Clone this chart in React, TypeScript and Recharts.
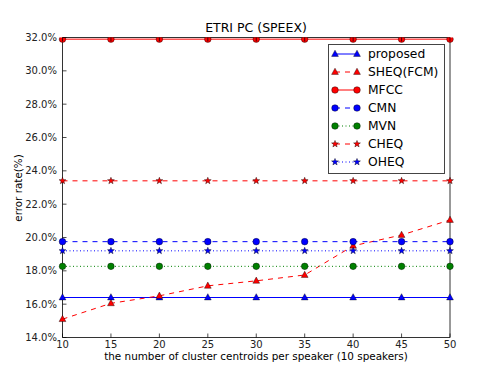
import React from "react";
import { LineChart, Line, XAxis, YAxis } from "recharts";

// cluster centroid counts per speaker
const centroids = [10, 15, 20, 25, 30, 35, 40, 45, 50];

// error rates (%)
const proposed = [16.4, 16.4, 16.4, 16.4, 16.4, 16.4, 16.4, 16.4, 16.4];
const sheqFcm = [15.1, 16.05, 16.5, 17.1, 17.4, 17.75, 19.5, 20.15, 21.05];
const mfcc = [31.9, 31.9, 31.9, 31.9, 31.9, 31.9, 31.9, 31.9, 31.9];
const cmn = [19.75, 19.75, 19.75, 19.75, 19.75, 19.75, 19.75, 19.75, 19.75];
const mvn = [18.27, 18.27, 18.27, 18.27, 18.27, 18.27, 18.27, 18.27, 18.27];
const cheq = [23.4, 23.4, 23.4, 23.4, 23.4, 23.4, 23.4, 23.4, 23.4];
const oheq = [19.2, 19.2, 19.2, 19.2, 19.2, 19.2, 19.2, 19.2, 19.2];

const xTicks = [10, 15, 20, 25, 30, 35, 40, 45, 50];
const yTicks = [14, 16, 18, 20, 22, 24, 26, 28, 30, 32];

const FONT = "DejaVu Sans, sans-serif";
const BLUE = "#0000ff";
const RED = "#ff0000";
const GREEN = "#008000";

const data = centroids.map((c, i) => ({
  c,
  proposed: proposed[i],
  sheq: sheqFcm[i],
  mfcc: mfcc[i],
  cmn: cmn[i],
  mvn: mvn[i],
  cheq: cheq[i],
  oheq: oheq[i],
}));

type Shape = "tri" | "circle" | "star";

function marker(shape: Shape, cx: number, cy: number, color: string, key?: any) {
  if (shape === "circle") {
    return <circle key={key} cx={cx} cy={cy} r={3.3} fill={color} stroke="#000" strokeWidth={0.4} />;
  }
  if (shape === "tri") {
    const pts = `${cx},${cy - 3.8} ${cx - 3.4},${cy + 2.4} ${cx + 3.4},${cy + 2.4}`;
    return <polygon key={key} points={pts} fill={color} stroke="#000" strokeWidth={0.4} />;
  }
  const p: string[] = [];
  for (let k = 0; k < 10; k++) {
    const r = k % 2 === 0 ? 3.6 : 1.5;
    const a = -Math.PI / 2 + (k * Math.PI) / 5;
    p.push(`${cx + r * Math.cos(a)},${cy + r * Math.sin(a)}`);
  }
  return <polygon key={key} points={p.join(" ")} fill={color} stroke="#000" strokeWidth={0.4} />;
}

const dotFor = (shape: Shape, color: string) => (props: any) =>
  marker(shape, props.cx, props.cy, color, props.key ?? `${shape}-${props.index}`);

const series = [
  { key: "proposed", name: "proposed", color: BLUE, dash: undefined, shape: "tri" as Shape },
  { key: "sheq", name: "SHEQ(FCM)", color: RED, dash: "5 5", shape: "tri" as Shape },
  { key: "mfcc", name: "MFCC", color: RED, dash: undefined, shape: "circle" as Shape },
  { key: "cmn", name: "CMN", color: BLUE, dash: "5 5", shape: "circle" as Shape },
  { key: "mvn", name: "MVN", color: GREEN, dash: "1 2.5", shape: "circle" as Shape },
  { key: "cheq", name: "CHEQ", color: RED, dash: "5 5", shape: "star" as Shape },
  { key: "oheq", name: "OHEQ", color: BLUE, dash: "1 2.5", shape: "star" as Shape },
];

const LeftTick = (p: any) => {
  const ax = p.x + 5;
  return (
    <g>
      <line x1={ax} x2={ax + 4} y1={p.y} y2={p.y} stroke="#000" strokeWidth={0.7} />
      <text x={p.x - 0.5} y={p.y + 3.6} textAnchor="end" fontSize={10} fontFamily={FONT} fill="#222">
        {p.payload.value.toFixed(1) + "%"}
      </text>
    </g>
  );
};

const RightTick = (p: any) => (
  <line x1={p.x - 4} x2={p.x} y1={p.y} y2={p.y} stroke="#000" strokeWidth={0.7} />
);

const BottomTick = (p: any) => {
  const ay = p.y - 4;
  return (
    <g>
      <line x1={p.x} x2={p.x} y1={ay} y2={ay - 4} stroke="#000" strokeWidth={0.7} />
      <text x={p.x} y={p.y + 6.5} textAnchor="middle" fontSize={10} fontFamily={FONT} fill="#222">
        {p.payload.value}
      </text>
    </g>
  );
};

const TopTick = (p: any) => (
  <line x1={p.x} x2={p.x} y1={p.y} y2={p.y + 4} stroke="#000" strokeWidth={0.7} />
);

export default function App() {
  return (
    <div style={{ position: "absolute", left: 0, top: 0, width: 500, height: 375, background: "#fff" }}>
      <LineChart
        width={500}
        height={375}
        data={data}
        margin={{ top: 27.5, right: 40, bottom: 17.5, left: 12.5 }}
      >
        <XAxis
          dataKey="c"
          type="number"
          domain={[10, 50]}
          ticks={xTicks}
          height={20}
          tickSize={0}
          tickMargin={4}
          tick={BottomTick}
          axisLine={{ stroke: "#333", strokeWidth: 1 }}
          tickLine={false}
        />
        <XAxis
          xAxisId="top"
          dataKey="c"
          type="number"
          orientation="top"
          domain={[10, 50]}
          ticks={xTicks}
          height={10}
          tickSize={0}
          tickMargin={0}
          tick={TopTick}
          axisLine={{ stroke: "#333", strokeWidth: 1 }}
          tickLine={false}
        />
        <YAxis
          type="number"
          domain={[14, 32]}
          ticks={yTicks}
          width={50}
          tickSize={0}
          tickMargin={5}
          tick={LeftTick}
          axisLine={{ stroke: "#333", strokeWidth: 1 }}
          tickLine={false}
          allowDataOverflow
        />
        <YAxis
          yAxisId="right"
          orientation="right"
          type="number"
          domain={[14, 32]}
          ticks={yTicks}
          width={10}
          tickSize={0}
          tickMargin={0}
          tick={RightTick}
          axisLine={{ stroke: "#333", strokeWidth: 1 }}
          tickLine={false}
        />
        {series.map((s) => (
          <Line
            key={s.key}
            dataKey={s.key}
            name={s.name}
            stroke={s.color}
            strokeWidth={1}
            strokeDasharray={s.dash}
            dot={dotFor(s.shape, s.color)}
            activeDot={false}
            isAnimationActive={false}
          />
        ))}
      </LineChart>
      <svg
        width={500}
        height={375}
        style={{ position: "absolute", left: 0, top: 0, pointerEvents: "none" }}
        fontFamily={FONT}
      >
        <text x={256} y={32} textAnchor="middle" fontSize={12.5} fill="#000">
          ETRI PC (SPEEX)
        </text>
        <text x={256} y={360} textAnchor="middle" fontSize={10.4} fill="#000">
          the number of cluster centroids per speaker (10 speakers)
        </text>
        <text
          x={0}
          y={0}
          transform="translate(21.5,188) rotate(-90)"
          textAnchor="middle"
          fontSize={10.4}
          fill="#000"
        >
          error rate(%)
        </text>
        <g transform="translate(328,44)">
          <rect x={0.5} y={0.5} width={116} height={129} fill="#fff" stroke="#444" strokeWidth={1} />
          {series.map((s, i) => {
            const cy = 10 + i * 18;
            return (
              <g key={s.key}>
                <line x1={7} x2={29} y1={cy} y2={cy} stroke={s.color} strokeWidth={1} strokeDasharray={s.dash} />
                {marker(s.shape, 7, cy, s.color)}
                {marker(s.shape, 29, cy, s.color)}
                <text x={40} y={cy + 4.4} fontSize={12.3} fill="#000">
                  {s.name}
                </text>
              </g>
            );
          })}
        </g>
      </svg>
    </div>
  );
}
